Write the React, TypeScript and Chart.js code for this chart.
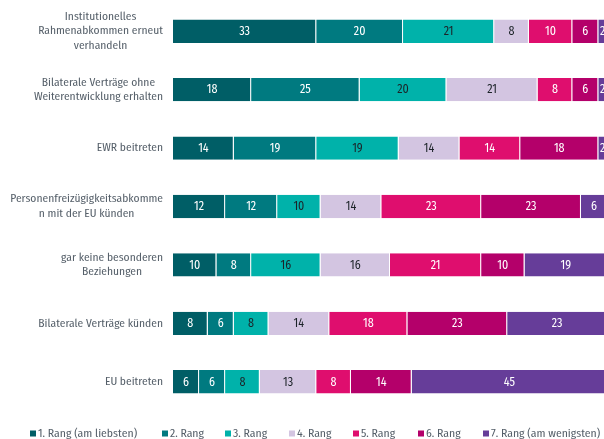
import React, { useEffect, useRef } from "react";
import { Chart, registerables } from "chart.js";

Chart.register(...registerables);

const categories: string[][] = [
  ["Institutionelles", "Rahmenabkommen erneut", "verhandeln"],
  ["Bilaterale Verträge ohne", "Weiterentwicklung erhalten"],
  ["EWR beitreten"],
  ["Personenfreizügigkeitsabkomme", "n mit der EU künden"],
  ["gar keine besonderen", "Beziehungen"],
  ["Bilaterale Verträge künden"],
  ["EU beitreten"],
];

const seriesNames = [
  "1. Rang (am liebsten)",
  "2. Rang",
  "3. Rang",
  "4. Rang",
  "5. Rang",
  "6. Rang",
  "7. Rang (am wenigsten)",
];

const rank1 = [33, 18, 14, 12, 10, 8, 6];
const rank2 = [20, 25, 19, 12, 8, 6, 6];
const rank3 = [21, 20, 19, 10, 16, 8, 8];
const rank4 = [8, 21, 14, 14, 16, 14, 13];
const rank5 = [10, 8, 14, 23, 21, 18, 8];
const rank6 = [6, 6, 18, 23, 10, 23, 14];
const rank7 = [2, 2, 2, 6, 19, 23, 45];

const seriesValues = [rank1, rank2, rank3, rank4, rank5, rank6, rank7];
const colors = ["#005E66", "#007A80", "#00B2AA", "#D3C5E1", "#DF0E6E", "#B4006A", "#663D99"];
const labelColors = ["#ffffff", "#ffffff", "#1c2328", "#1c2328", "#ffffff", "#ffffff", "#ffffff"];

const FONT = "'Fira Sans Condensed', 'Fira Sans', Roboto, sans-serif";
const TEXT_GREY = "#56606a";

export default function App() {
  const ref = useRef<HTMLCanvasElement | null>(null);

  useEffect(() => {
    document.body.style.margin = "0";

    const labelPlugin = {
      id: "customLabels",
      afterDraw(chart: any) {
        const ctx = chart.ctx;
        const yScale = chart.scales.y;
        ctx.save();
        // category labels: block right-aligned, lines centred within block
        ctx.font = `11.5px ${FONT}`;
        ctx.fillStyle = TEXT_GREY;
        ctx.textBaseline = "middle";
        ctx.textAlign = "center";
        const right = chart.chartArea.left - 10;
        const lh = 14.5;
        categories.forEach((lines, i) => {
          const cy = yScale.getPixelForValue(i);
          const maxW = Math.max(...lines.map((l) => ctx.measureText(l).width));
          const cx = right - maxW / 2;
          lines.forEach((l, j) => {
            ctx.fillText(l, cx, cy + (j - (lines.length - 1) / 2) * lh);
          });
        });
        // value labels
        ctx.font = `12px ${FONT}`;
        chart.data.datasets.forEach((ds: any, di: number) => {
          const meta = chart.getDatasetMeta(di);
          meta.data.forEach((bar: any, i: number) => {
            const v = ds.data[i];
            const x = (bar.x + bar.base) / 2;
            ctx.fillStyle = labelColors[di];
            ctx.fillText(String(v), x, bar.y + 0.5);
          });
        });
        // legend
        const legendY = 433.5;
        const boxX = [30, 162, 225, 289, 353, 418, 483];
        ctx.textAlign = "left";
        ctx.font = `11.7px ${FONT}`;
        seriesNames.forEach((n, i) => {
          ctx.fillStyle = colors[i];
          ctx.fillRect(boxX[i], legendY - 3, 6, 6);
          ctx.fillStyle = TEXT_GREY;
          ctx.fillText(n, boxX[i] + 8, legendY);
        });
        ctx.restore();
      },
    };

    const chart = new Chart(ref.current!, {
      type: "bar",
      data: {
        labels: categories.map((c) => c.join(" ")),
        datasets: seriesValues.map((vals, i) => ({
          label: seriesNames[i],
          data: vals,
          backgroundColor: colors[i],
          borderColor: "rgba(255,255,255,0.55)",
          borderWidth: { right: 1, left: 0, top: 0, bottom: 0 },
          borderSkipped: false,
          barPercentage: 0.4,
          categoryPercentage: 1,
        })),
      },
      options: {
        indexAxis: "y",
        animation: false,
        responsive: false,
        layout: { padding: { left: 173, right: 13, top: 2, bottom: 28 } },
        scales: {
          x: { stacked: true, min: 0, max: 100, display: false },
          y: { stacked: true, display: false },
        },
        plugins: {
          legend: { display: false },
          tooltip: { enabled: false },
        },
      },
      plugins: [labelPlugin],
    });
    return () => chart.destroy();
  }, []);

  return (
    <div style={{ width: 604, height: 439, overflow: "hidden", position: "relative" }}>
      <canvas ref={ref} width={620} height={439} style={{ width: 620, height: 439, display: "block" }} />
    </div>
  );
}
